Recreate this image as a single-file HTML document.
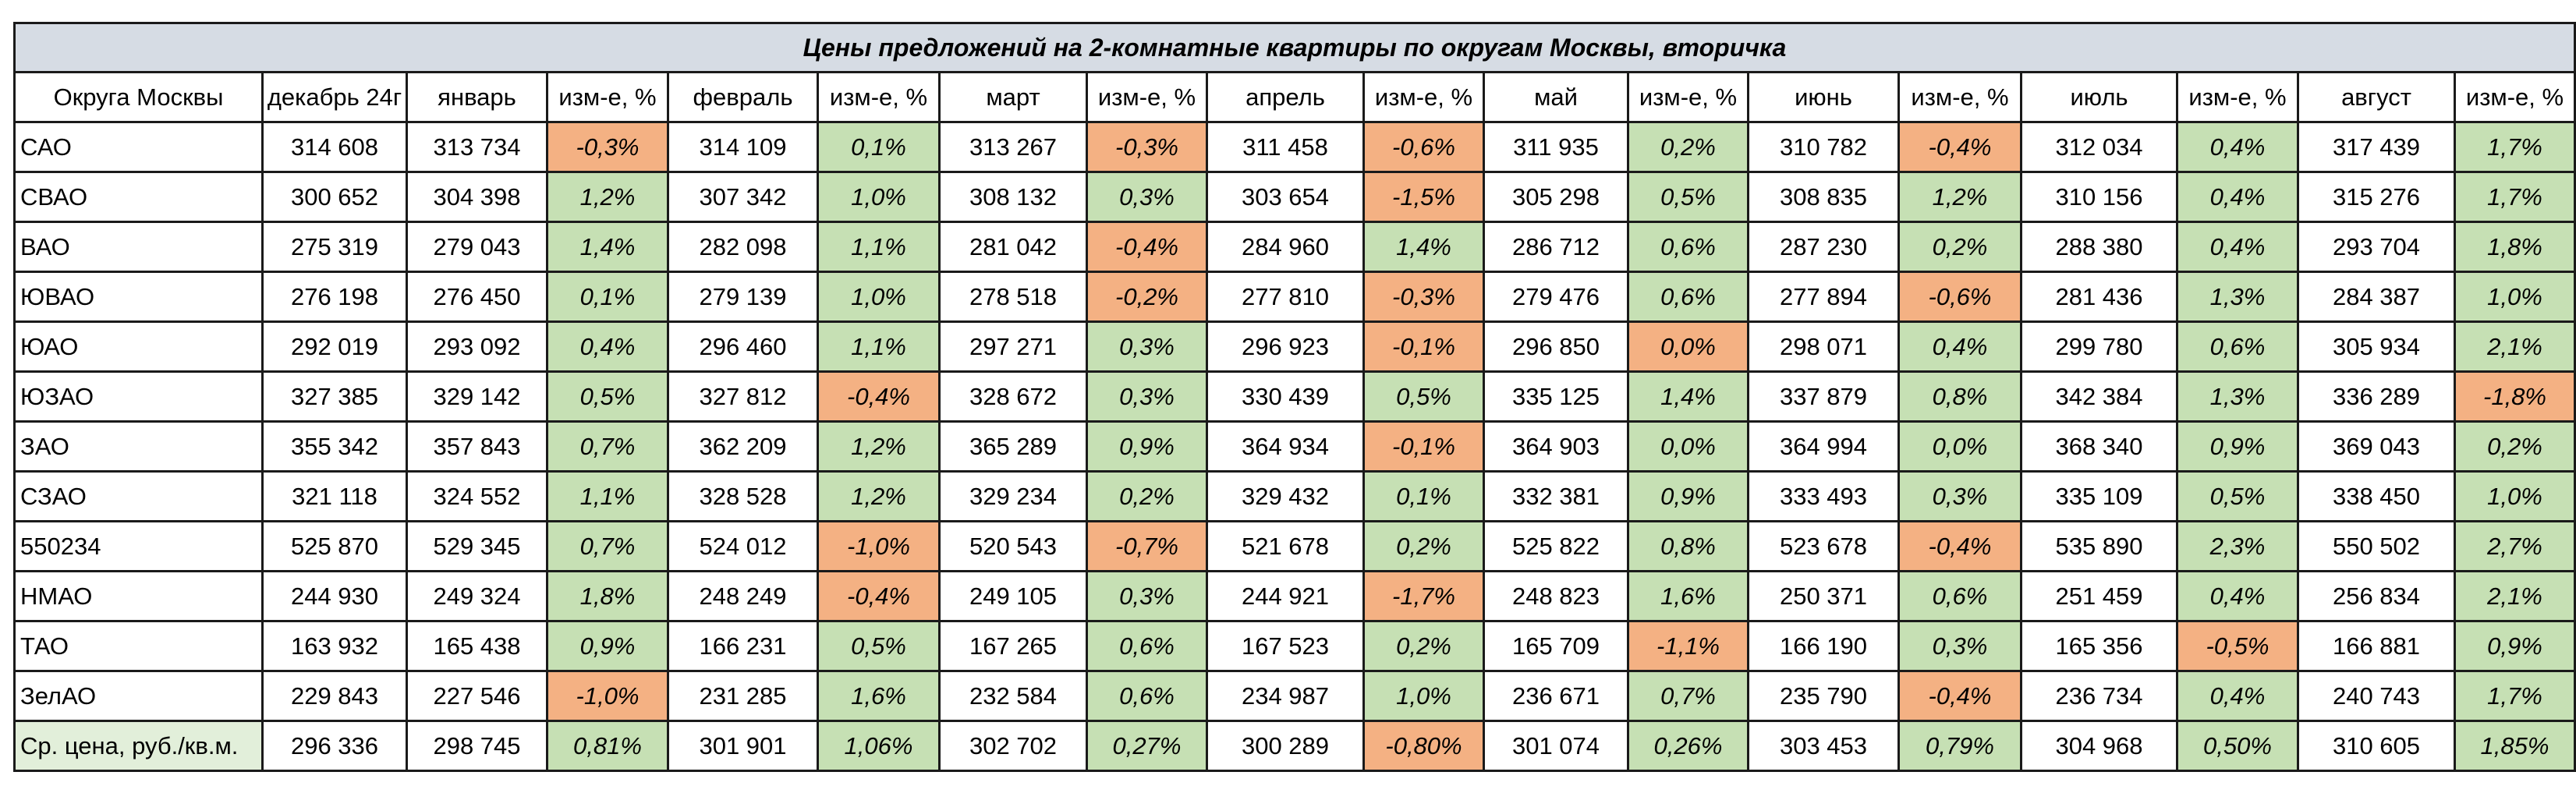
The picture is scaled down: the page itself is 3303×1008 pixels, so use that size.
<!DOCTYPE html>
<html><head><meta charset="utf-8"><style>
html,body{margin:0;padding:0;background:#fff;width:3303px;height:1008px;overflow:hidden}
table{position:absolute;left:17px;top:28px;border-collapse:collapse;table-layout:fixed;font-family:"Liberation Sans",sans-serif;font-size:31px;color:#000}
td{border:3px solid #1a1a1a;height:61px;padding:0 4px;text-align:center;white-space:nowrap;overflow:hidden;vertical-align:middle}
td.t{background:#D6DCE4;font-weight:bold;font-style:italic;font-size:32px;height:60px}
td.l{text-align:left;padding-left:6px}
td.p{font-style:italic}
td.pos{background:#C6E0B4}td.neg{background:#F4B183}
td.avg{background:#E2EFDA}
</style></head><body>
<table id="tbl"></table>
<script>
const widths=[318,185,180,155,192,156,189,154,201,154,185,154,193,157,200,155,201,154];
const headers=["Округа Москвы","декабрь 24г","январь","изм-е, %","февраль","изм-е, %","март","изм-е, %","апрель","изм-е, %","май","изм-е, %","июнь","изм-е, %","июль","изм-е, %","август","изм-е, %"];
const districts=["САО","СВАО","ВАО","ЮВАО","ЮАО","ЮЗАО","ЗАО","СЗАО","550234","НМАО","ТАО","ЗелАО","Ср. цена, руб./кв.м."];
const rows=[
["314 608","313 734","-0,3%","314 109","0,1%","313 267","-0,3%","311 458","-0,6%","311 935","0,2%","310 782","-0,4%","312 034","0,4%","317 439","1,7%"],
["300 652","304 398","1,2%","307 342","1,0%","308 132","0,3%","303 654","-1,5%","305 298","0,5%","308 835","1,2%","310 156","0,4%","315 276","1,7%"],
["275 319","279 043","1,4%","282 098","1,1%","281 042","-0,4%","284 960","1,4%","286 712","0,6%","287 230","0,2%","288 380","0,4%","293 704","1,8%"],
["276 198","276 450","0,1%","279 139","1,0%","278 518","-0,2%","277 810","-0,3%","279 476","0,6%","277 894","-0,6%","281 436","1,3%","284 387","1,0%"],
["292 019","293 092","0,4%","296 460","1,1%","297 271","0,3%","296 923","-0,1%","296 850","0,0%","298 071","0,4%","299 780","0,6%","305 934","2,1%"],
["327 385","329 142","0,5%","327 812","-0,4%","328 672","0,3%","330 439","0,5%","335 125","1,4%","337 879","0,8%","342 384","1,3%","336 289","-1,8%"],
["355 342","357 843","0,7%","362 209","1,2%","365 289","0,9%","364 934","-0,1%","364 903","0,0%","364 994","0,0%","368 340","0,9%","369 043","0,2%"],
["321 118","324 552","1,1%","328 528","1,2%","329 234","0,2%","329 432","0,1%","332 381","0,9%","333 493","0,3%","335 109","0,5%","338 450","1,0%"],
["525 870","529 345","0,7%","524 012","-1,0%","520 543","-0,7%","521 678","0,2%","525 822","0,8%","523 678","-0,4%","535 890","2,3%","550 502","2,7%"],
["244 930","249 324","1,8%","248 249","-0,4%","249 105","0,3%","244 921","-1,7%","248 823","1,6%","250 371","0,6%","251 459","0,4%","256 834","2,1%"],
["163 932","165 438","0,9%","166 231","0,5%","167 265","0,6%","167 523","0,2%","165 709","-1,1%","166 190","0,3%","165 356","-0,5%","166 881","0,9%"],
["229 843","227 546","-1,0%","231 285","1,6%","232 584","0,6%","234 987","1,0%","236 671","0,7%","235 790","-0,4%","236 734","0,4%","240 743","1,7%"],
["296 336","298 745","0,81%","301 901","1,06%","302 702","0,27%","300 289","-0,80%","301 074","0,26%","303 453","0,79%","304 968","0,50%","310 605","1,85%"]];
const tbl=document.getElementById('tbl');
const cg=document.createElement('colgroup');
widths.forEach(w=>{const c=document.createElement('col');c.style.width=w+'px';cg.appendChild(c);});
tbl.appendChild(cg);
let tr=document.createElement('tr');
let td=document.createElement('td');
td.colSpan=18;td.className='t';td.textContent='Цены предложений на 2-комнатные квартиры по округам Москвы, вторичка';


tr.appendChild(td);tbl.appendChild(tr);
tr=document.createElement('tr');
headers.forEach((h,i)=>{const c=document.createElement('td');c.textContent=h;


tr.appendChild(c);});
tbl.appendChild(tr);
rows.forEach((r,ri)=>{
 const row=document.createElement('tr');
 
 
 const l=document.createElement('td');l.className='l'+(ri===rows.length-1?' avg':'');l.textContent=districts[ri];
 
 
 row.appendChild(l);
 r.forEach((v,ci)=>{const c=document.createElement('td');c.textContent=v;
  if(v.indexOf('%')>=0){let neg=v.charAt(0)==='-';
   if(v==='0,0%'&&ri===4)neg=true;
   c.className='p '+(neg?'neg':'pos');
   }
  else{}
  
  row.appendChild(c);});
 tbl.appendChild(row);
});
</script>
</body></html>
